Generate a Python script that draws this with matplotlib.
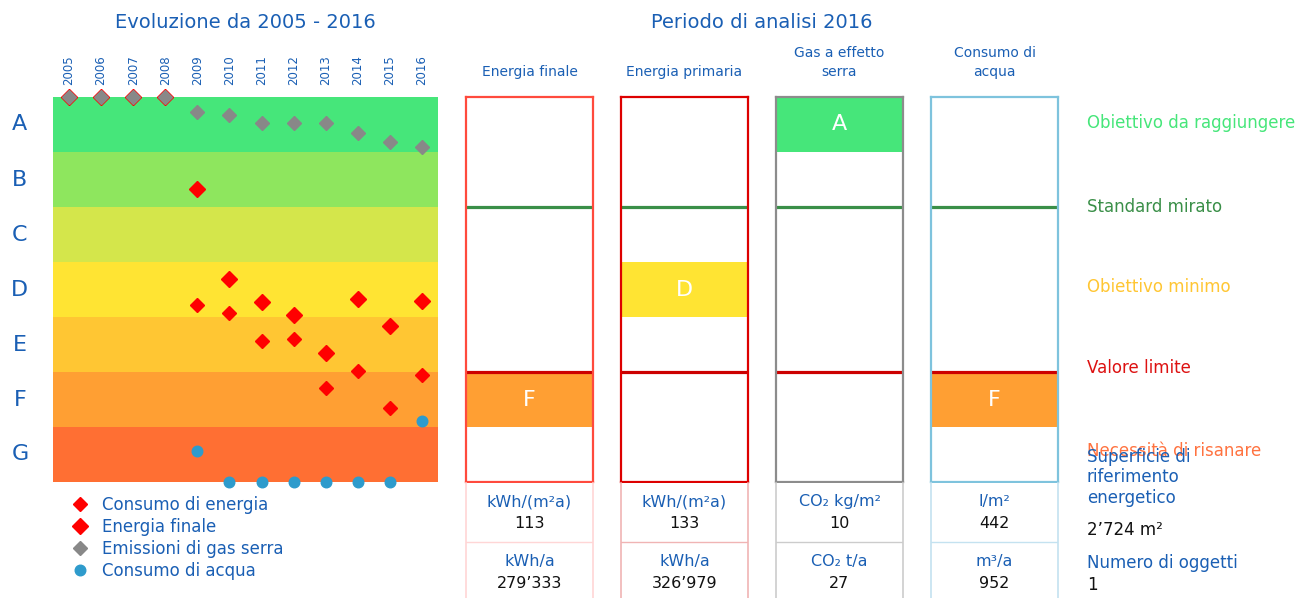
import numpy as np
import matplotlib
matplotlib.use("Agg")
import matplotlib.pyplot as plt

W, H = 1300, 598
BLUE = '#1a5fb4'

# classi e colori
classes = ['A', 'B', 'C', 'D', 'E', 'F', 'G']
band_colors = ['#46e67a', '#8ee65e', '#d4e64b', '#ffe433', '#ffc633', '#ff9f33', '#ff6f33']

# evoluzione 2005 - 2016 (posizione sulla scala delle classi, 0 = alto di A)
years = list(range(2005, 2017))
nan = np.nan
consumo_energia = [nan, nan, nan, nan, 3.78, 3.93, 4.44, 4.40, 5.29, 4.98, 5.65, 5.05]
energia_finale = [0, 0, 0, 0, 1.67, 3.31, 3.73, 3.96, 4.65, 3.67, 4.16, 3.71]
emissioni_gas = [0, 0, 0, 0, 0.27, 0.33, 0.47, 0.47, 0.48, 0.66, 0.82, 0.90]
consumo_acqua = [nan, nan, nan, nan, 6.44, 7, 7, 7, 7, 7, 7, 5.89]

# periodo di analisi 2016
panel_titles = ['Energia finale', 'Energia primaria', 'Gas a effetto\nserra', 'Consumo di\nacqua']
panel_class = [5, 3, 0, 5]
unit1 = ['kWh/(m²a)', 'kWh/(m²a)', 'CO₂ kg/m²', 'l/m²']
value1 = ['113', '133', '10', '442']
unit2 = ['kWh/a', 'kWh/a', 'CO₂ t/a', 'm³/a']
value2 = ['279’333', '326’979', '27', '952']

# linee di riferimento e testi a destra
ref_labels = ['Obiettivo da raggiungere', 'Standard mirato', 'Obiettivo minimo',
              'Valore limite', 'Necessità di risanare']
ref_pos = [0.47, 2.0, 3.45, 4.93, 6.44]
ref_colors = ['#46e67a', '#3a8f48', '#ffc633', '#dd1111', '#ff7340']

panel_x = [(466, 593), (621, 748), (776, 903), (931, 1058)]
border_colors = ['#ff4a3d', '#dd0000', '#8c8c8c', '#7ec3dd']
table_colors = ['#ffd6d6', '#f0b4b4', '#cccccc', '#c4e2f0']

fig = plt.figure(figsize=(W / 100, H / 100), dpi=100)


def px_axes(x0, y0, x1, y1):
    return fig.add_axes([x0 / W, 1 - y1 / H, (x1 - x0) / W, (y1 - y0) / H])


def fig_text(x, y, s, **kw):
    fig.text(x / W, 1 - y / H, s, va='center', **kw)


# --- grafico a sinistra ---
ax = px_axes(53, 97, 438, 482)
ax.set_xlim(2004.5, 2016.5)
ax.set_ylim(7, 0)
for i, c in enumerate(band_colors):
    ax.axhspan(i, i + 1, color=c, lw=0, zorder=0)
    ax.text(-0.086, 1 - (i + 0.5) / 7, classes[i], transform=ax.transAxes,
            ha='center', va='center', fontsize=16, color=BLUE)

l1, = ax.plot(years, consumo_energia, 'D', color='#ff0000', ms=7.4, ls='none',
              clip_on=False, zorder=3, label='Consumo di energia')
l2, = ax.plot(years, energia_finale, 'D', color='#ff0000', ms=8.6, ls='none',
              clip_on=False, zorder=3, label='Energia finale')
l3, = ax.plot(years, emissioni_gas, 'D', color='#888888', ms=7.4, ls='none',
              clip_on=False, zorder=4, label='Emissioni di gas serra')
l4, = ax.plot(years, consumo_acqua, 'o', color='#2e9bcc', ms=7.6, ls='none',
              clip_on=False, zorder=5, label='Consumo di acqua')

ax.xaxis.tick_top()
ax.set_xticks(years)
ax.set_xticklabels([str(y) for y in years], rotation=90, fontsize=8.5, color=BLUE)
ax.tick_params(axis='x', length=0, pad=8.5)
ax.set_yticks([])
for s in ax.spines.values():
    s.set_visible(False)

ax.legend(handles=[l1, l2, l3, l4], loc='upper left',
          bbox_to_anchor=(70 / W, 1 - 496 / H), bbox_transform=fig.transFigure,
          frameon=False, fontsize=12, labelcolor=BLUE, handlelength=1.2,
          handletextpad=0.75, labelspacing=0.24, borderpad=0, borderaxespad=0)

fig_text(245, 22, 'Evoluzione da 2005 - 2016', ha='center', fontsize=14, color=BLUE)
fig_text(762, 22, 'Periodo di analisi 2016', ha='center', fontsize=14, color=BLUE)

# --- riquadri 2016 ---
for k, (x0, x1) in enumerate(panel_x):
    bx = px_axes(x0, 97, x1, 482)
    bx.set_xlim(0, 1)
    bx.set_ylim(7, 0)
    c = panel_class[k]
    bx.axhspan(c, c + 1, color=band_colors[c], lw=0, zorder=0)
    bx.text(0.5, c + 0.5, classes[c], ha='center', va='center', fontsize=16, color='white')
    bx.axhline(2, color='#3a8f48', lw=2.3, zorder=2)
    bx.axhline(5, color='#cc0000', lw=2.3, zorder=2)
    bx.set_xticks([])
    bx.set_yticks([])
    for s in bx.spines.values():
        s.set_color(border_colors[k])
        s.set_linewidth(1.6)

    title_lines = panel_titles[k].split('\n')
    if len(title_lines) == 1:
        fig_text((x0 + x1) / 2, 72, title_lines[0], ha='center', fontsize=10, color=BLUE)
    else:
        fig_text((x0 + x1) / 2, 53, title_lines[0], ha='center', fontsize=10, color=BLUE)
        fig_text((x0 + x1) / 2, 72, title_lines[1], ha='center', fontsize=10, color=BLUE)

    tx = px_axes(x0, 483, x1, 600)
    tx.set_xlim(0, 1)
    tx.set_ylim(0, 1)
    tx.axhline(0.495, color=table_colors[k], lw=1)
    tx.set_xticks([])
    tx.set_yticks([])
    for name, s in tx.spines.items():
        if name in ('left', 'right'):
            s.set_color(table_colors[k])
            s.set_linewidth(1.2)
        else:
            s.set_visible(False)
    tx.text(0.5, 0.84, unit1[k], ha='center', va='center', fontsize=11.5, color=BLUE)
    tx.text(0.5, 0.65, value1[k], ha='center', va='center', fontsize=11.5, color='#111111')
    tx.text(0.5, 0.33, unit2[k], ha='center', va='center', fontsize=11.5, color=BLUE)
    tx.text(0.5, 0.14, value2[k], ha='center', va='center', fontsize=11.5, color='#111111')

# --- etichette a destra ---
for lab, pos, col in zip(ref_labels, ref_pos, ref_colors):
    fig_text(1087, 97 + pos * 55, lab, ha='left', fontsize=12, color=col)

fig_text(1087, 457, 'Superficie di', ha='left', fontsize=12, color=BLUE)
fig_text(1087, 477, 'riferimento', ha='left', fontsize=12, color=BLUE)
fig_text(1087, 498, 'energetico', ha='left', fontsize=12, color=BLUE)
fig_text(1087, 530, '2’724 m²', ha='left', fontsize=12, color='#111111')
fig_text(1087, 563, 'Numero di oggetti', ha='left', fontsize=12, color=BLUE)
fig_text(1087, 585, '1', ha='left', fontsize=12, color='#111111')

fig.savefig('out.png', dpi=100)
